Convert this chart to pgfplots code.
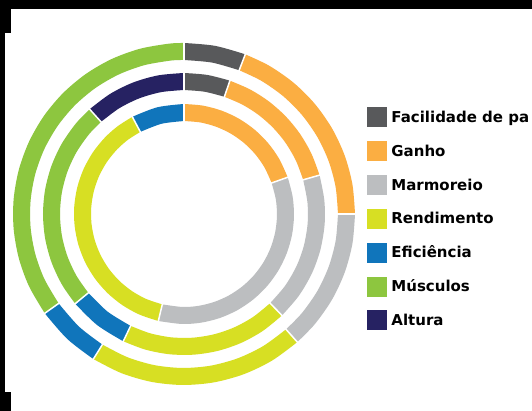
\documentclass[border=0pt]{standalone}
\usepackage{pgfplots}
\pgfplotsset{compat=1.18}
\usepgfplotslibrary{polar}
\usepackage{fontspec}
\setmainfont{DejaVu Sans}
\definecolor{cdark}{HTML}{58595B}
\definecolor{corange}{HTML}{FBAE42}
\definecolor{cgray}{HTML}{BCBEC0}
\definecolor{cyellow}{HTML}{D7DF23}
\definecolor{cblue}{HTML}{1075BB}
\definecolor{cgreen}{HTML}{8DC63F}
\definecolor{cnavy}{HTML}{262262}
\begin{document}
\begin{tikzpicture}[x=1pt,y=1pt]
\useasboundingbox (0,0) rectangle (532,411);
\clip (0,0) rectangle (532,411);
\fill[white] (0,0) rectangle (532,411);
\fill[black] (0,402) rectangle (532,411);
\fill[black] (0,378) rectangle (11,402);
\fill[black] (0,19) rectangle (5,378);
\fill[black] (0,0) rectangle (11,19);
\begin{polaraxis}[
  at={(184pt,197pt)}, anchor=center,
  width=350pt, height=350pt, scale only axis,
  xmin=-360, xmax=360, ymin=0, ymax=175,
  % angles are given clockwise from 12 o'clock
  x filter/.expression={90-x},
  hide axis, clip=false,
  legend image code/.code={\fill[#1] (0pt,-9.5pt) rectangle (19pt,9.5pt);},
  legend cell align=left,
  legend style={draw=none, fill=none, inner sep=0pt, outer sep=0pt,
    at={(1.0229,0.8057)}, anchor=north west,
    row sep=14.5pt, column sep=5pt,
    font=\bfseries\fontsize{15}{18}\selectfont,
    nodes={inner sep=0pt, text height=11pt, text depth=0pt}},
]
% ---- outer ring (r = 162.5) ----
\addplot[cdark, line width=17pt, smooth, forget plot] coordinates {(0,162.5) (10.5,162.5) (21,162.5)};
\addplot[corange, line width=17pt, smooth, forget plot] coordinates {(21,162.5) (30,162.5) (40,162.5) (50,162.5) (60,162.5) (70,162.5) (80,162.5) (90,162.5)};
\addplot[cgray, line width=17pt, smooth, forget plot] coordinates {(90,162.5) (100,162.5) (110,162.5) (120,162.5) (130,162.5) (138.5,162.5)};
\addplot[cyellow, line width=17pt, smooth, forget plot] coordinates {(138.5,162.5) (149,162.5) (159.5,162.5) (170,162.5) (180.5,162.5) (191,162.5) (201.5,162.5) (212,162.5)};
\addplot[cblue, line width=17pt, smooth, forget plot] coordinates {(212,162.5) (223,162.5) (234.5,162.5)};
\addplot[cgreen, line width=17pt, smooth, forget plot] coordinates {(234.5,162.5) (245,162.5) (255,162.5) (265,162.5) (275,162.5) (285,162.5) (295,162.5) (305,162.5) (315,162.5) (325,162.5) (335,162.5) (345,162.5) (355,162.5) (360,162.5)};
% ---- middle ring (r = 132.5) ----
\addplot[cdark, line width=17pt, smooth, forget plot] coordinates {(0,132.5) (9.5,132.5) (19,132.5)};
\addplot[corange, line width=17pt, smooth, forget plot] coordinates {(19,132.5) (28,132.5) (37,132.5) (46,132.5) (55,132.5) (64.5,132.5) (74,132.5)};
\addplot[cgray, line width=17pt, smooth, forget plot] coordinates {(74,132.5) (84.5,132.5) (94.5,132.5) (105,132.5) (115,132.5) (125.5,132.5) (136,132.5)};
\addplot[cyellow, line width=17pt, smooth, forget plot] coordinates {(136,132.5) (146,132.5) (156,132.5) (166,132.5) (176,132.5) (186,132.5) (196,132.5) (205.5,132.5)};
\addplot[cblue, line width=17pt, smooth, forget plot] coordinates {(205.5,132.5) (218,132.5) (230.5,132.5)};
\addplot[cgreen, line width=17pt, smooth, forget plot] coordinates {(230.5,132.5) (240,132.5) (250,132.5) (260,132.5) (270,132.5) (280,132.5) (290,132.5) (300,132.5) (310,132.5) (318,132.5)};
\addplot[cnavy, line width=17pt, smooth, forget plot] coordinates {(318,132.5) (328.5,132.5) (339,132.5) (349.5,132.5) (360,132.5)};
% ---- inner ring (r = 101.5) ----
\addplot[corange, line width=17pt, smooth, forget plot] coordinates {(0,101.5) (10,101.5) (20,101.5) (30,101.5) (40,101.5) (50,101.5) (60,101.5) (70.5,101.5)};
\addplot[cgray, line width=17pt, smooth, forget plot] coordinates {(70.5,101.5) (81,101.5) (91,101.5) (101,101.5) (111,101.5) (121,101.5) (131,101.5) (141,101.5) (151,101.5) (161,101.5) (171,101.5) (181,101.5) (193.5,101.5)};
\addplot[cyellow, line width=17pt, smooth, forget plot] coordinates {(193.5,101.5) (204,101.5) (214,101.5) (224,101.5) (234,101.5) (244,101.5) (254,101.5) (264,101.5) (274,101.5) (284,101.5) (294,101.5) (304,101.5) (314,101.5) (323,101.5) (332,101.5)};
\addplot[cblue, line width=17pt, smooth, forget plot] coordinates {(332,101.5) (346,101.5) (360,101.5)};
% ---- white separators ----
\addplot[white, line width=1.5pt, forget plot] coordinates {(0,152.5) (0,172.5)};
\addplot[white, line width=1.5pt, forget plot] coordinates {(21,152.5) (21,172.5)};
\addplot[white, line width=1.5pt, forget plot] coordinates {(90,152.5) (90,172.5)};
\addplot[white, line width=1.5pt, forget plot] coordinates {(138.5,152.5) (138.5,172.5)};
\addplot[white, line width=1.5pt, forget plot] coordinates {(212,152.5) (212,172.5)};
\addplot[white, line width=1.5pt, forget plot] coordinates {(234.5,152.5) (234.5,172.5)};
\addplot[white, line width=1.5pt, forget plot] coordinates {(0,122.5) (0,142.5)};
\addplot[white, line width=1.5pt, forget plot] coordinates {(19,122.5) (19,142.5)};
\addplot[white, line width=1.5pt, forget plot] coordinates {(74,122.5) (74,142.5)};
\addplot[white, line width=1.5pt, forget plot] coordinates {(136,122.5) (136,142.5)};
\addplot[white, line width=1.5pt, forget plot] coordinates {(205.5,122.5) (205.5,142.5)};
\addplot[white, line width=1.5pt, forget plot] coordinates {(230.5,122.5) (230.5,142.5)};
\addplot[white, line width=1.5pt, forget plot] coordinates {(318,122.5) (318,142.5)};
\addplot[white, line width=1.5pt, forget plot] coordinates {(0,91.5) (0,111.5)};
\addplot[white, line width=1.5pt, forget plot] coordinates {(70.5,91.5) (70.5,111.5)};
\addplot[white, line width=1.5pt, forget plot] coordinates {(193.5,91.5) (193.5,111.5)};
\addplot[white, line width=1.5pt, forget plot] coordinates {(332,91.5) (332,111.5)};
% ---- legend ----
\addlegendimage{cdark}\addlegendentry{Facilidade de pa}
\addlegendimage{corange}\addlegendentry{Ganho}
\addlegendimage{cgray}\addlegendentry{Marmoreio}
\addlegendimage{cyellow}\addlegendentry{Rendimento}
\addlegendimage{cblue}\addlegendentry{Eficiência}
\addlegendimage{cgreen}\addlegendentry{Músculos}
\addlegendimage{cnavy}\addlegendentry{Altura}
\end{polaraxis}
\end{tikzpicture}
\end{document}
